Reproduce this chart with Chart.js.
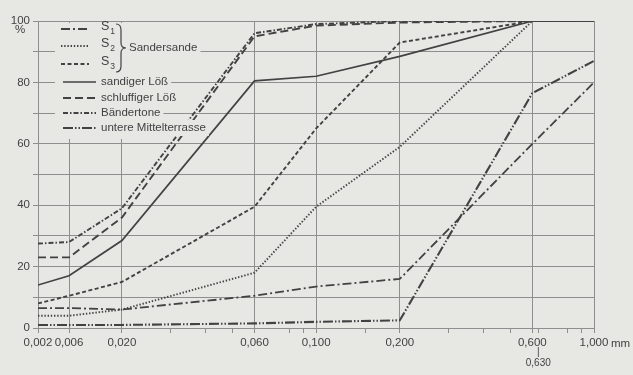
<!DOCTYPE html>
<html>
<head>
<meta charset="utf-8">
<script src="https://cdn.jsdelivr.net/npm/chart.js@4.4.1/dist/chart.umd.min.js"></script>
<style>
	html, body { margin: 0; padding: 0; background: #e7e7e4; }
	canvas { display: block; }
</style>
</head>
<body>
<canvas id="grainChart" width="633" height="375"></canvas>
<script>
'use strict';

// grain size (mm) where the curves have their vertices
const grainSizes = [0.002, 0.006, 0.02, 0.06, 0.1, 0.2, 0.6, 1.0];

// cumulative percentages per sample
const sander1 = [6.5, 6.5, 6, 10.5, 13.5, 16, 60, 80];
const sander2 = [4, 4, 6, 18, 39.5, 59, 100, 100];
const sander3 = [8, 10.5, 15, 39.5, 65, 93, 100, 100];
const sandigerLoess = [14, 17, 28.5, 80.5, 82, 88.5, 100, 100];
const schluffigerLoess = [23, 23, 36, 95, 98.5, 99.5, 100, 100];
const baendertone = [27.5, 28, 39, 96, 99, 100, 100, 100];
const mittelterrasse = [1, 1, 1, 1.5, 2, 2.5, 76.5, 87];

// axis ticks
const xTickValues = [0.002, 0.006, 0.02, 0.06, 0.1, 0.2, 0.6, 1.0];
const xTickLabels = ['0,002', '0,006', '0,020', '0,060', '0,100', '0,200', '0,600', '1,000'];
const xMinorTicks = [0.03, 0.04, 0.05, 0.08, 0.09, 0.15, 0.3, 0.4, 0.5, 0.8, 0.9];
const xExtraTick = 0.63;
const xExtraLabel = '0,630';
const yLabelledTicks = [0, 20, 40, 60, 80, 100];

// the paper's axis is squeezed below 0,020 and logarithmic above it
const axisBreaks = [0.002, 0.006, 0.02, 1.0];
const axisFractions = [0, 0.0558, 0.151, 1];

const lineColor = '#424242';
const gridColor = '#8e8e8e';
const textColor = '#424242';
const bgColor = '#e7e7e4';
const fontFamily = '"Liberation Sans", Arial, sans-serif';

class GrainScale extends Chart.LogarithmicScale {
	buildTicks() {
		this.start = this.min;
		this.end = this.max;
		const all = xTickValues.concat(xMinorTicks, [xExtraTick]).sort((a, b) => a - b);
		return all.map(v => ({ value: v }));
	}
	getPixelForValue(value) {
		const lv = Math.log10(value);
		const n = axisBreaks.length;
		let i = 0;
		while (i < n - 2 && value > axisBreaks[i + 1]) i++;
		const a = Math.log10(axisBreaks[i]);
		const b = Math.log10(axisBreaks[i + 1]);
		const t = (lv - a) / (b - a);
		const frac = axisFractions[i] + t * (axisFractions[i + 1] - axisFractions[i]);
		return this.getPixelForDecimal(frac);
	}
	getValueForPixel(pixel) {
		const frac = this.getDecimalForPixel(pixel);
		const n = axisFractions.length;
		let i = 0;
		while (i < n - 2 && frac > axisFractions[i + 1]) i++;
		const t = (frac - axisFractions[i]) / (axisFractions[i + 1] - axisFractions[i]);
		const a = Math.log10(axisBreaks[i]);
		const b = Math.log10(axisBreaks[i + 1]);
		return Math.pow(10, a + t * (b - a));
	}
}
GrainScale.id = 'grain';
GrainScale.defaults = {};
Chart.register(GrainScale);

const isMajor = v => xTickValues.some(t => Math.abs(t - v) < 1e-9);
const isExtra = v => Math.abs(v - xExtraTick) < 1e-9;

const toPoints = values => grainSizes.map((x, i) => ({ x: x, y: values[i] }));

const makeSet = (label, values, dash, width) => ({
	label: label,
	data: toPoints(values),
	borderColor: lineColor,
	borderWidth: width,
	borderDash: dash,
	borderCapStyle: 'butt',
	pointRadius: 0,
	tension: 0,
	fill: false
});

const datasets = [
	makeSet('S1', sander1, [9, 3, 2, 3], 1.8),
	makeSet('S2', sander2, [1.4, 1.8], 1.9),
	makeSet('S3', sander3, [4, 2.5], 1.9),
	makeSet('sandiger Löß', sandigerLoess, [], 1.7),
	makeSet('schluffiger Löß', schluffigerLoess, [8, 4], 1.9),
	makeSet('Bändertone', baendertone, [5, 2, 1.5, 2], 1.9),
	makeSet('untere Mittelterrasse', mittelterrasse, [10, 2, 1.5, 2, 1.5, 2], 2.1)
];

// legend rows: text middle y in canvas pixels
const legendRowsY = [29, 46, 64, 82, 98, 113, 128];

const paperLegend = {
	id: 'paperLegend',
	afterDatasetsDraw(chart) {
		const ctx = chart.ctx;
		const sets = chart.data.datasets;
		ctx.save();
		ctx.textBaseline = 'middle';
		ctx.font = '11.5px ' + fontFamily;

		// blank out the paper behind the legend
		ctx.fillStyle = bgColor;
		ctx.fillRect(55, 23, 75, 116);
		const groupWidth = ctx.measureText('Sandersande').width;
		ctx.fillRect(55, 23, 129 + groupWidth + 3 - 55, 50);
		for (let i = 3; i < sets.length; i++) {
			const w = ctx.measureText(sets[i].label).width;
			ctx.fillRect(55, legendRowsY[i] - 8, 101 + w + 3 - 55, 16);
		}

		sets.forEach((ds, i) => {
			const y = legendRowsY[i];
			const x0 = i < 3 ? 61 : 63;
			const x1 = i < 3 ? 89 : 96;
			ctx.beginPath();
			ctx.strokeStyle = ds.borderColor;
			ctx.lineWidth = ds.borderWidth;
			ctx.setLineDash(ds.borderDash);
			ctx.moveTo(x0, y);
			ctx.lineTo(x1, y);
			ctx.stroke();
			ctx.setLineDash([]);

			ctx.fillStyle = textColor;
			const m = /^S(\d)$/.exec(ds.label);
			if (m) {
				ctx.font = '12.5px ' + fontFamily;
				ctx.fillText('S', 101, y - 2);
				const sw = ctx.measureText('S').width;
				ctx.font = '8.5px ' + fontFamily;
				ctx.fillText(m[1], 101 + sw + 1, y + 3);
				ctx.font = '11.5px ' + fontFamily;
			} else {
				ctx.fillText(ds.label, 101, y);
			}
		});

		// brace for the three Sandersande
		ctx.beginPath();
		ctx.strokeStyle = lineColor;
		ctx.lineWidth = 1.2;
		ctx.moveTo(116, 24);
		ctx.quadraticCurveTo(121, 24, 121, 30);
		ctx.lineTo(121, 43);
		ctx.quadraticCurveTo(121, 48, 126, 48);
		ctx.quadraticCurveTo(121, 48, 121, 53);
		ctx.lineTo(121, 66);
		ctx.quadraticCurveTo(121, 72, 116, 72);
		ctx.stroke();
		ctx.fillStyle = textColor;
		ctx.fillText('Sandersande', 129, 48);

		// unit labels
		const yAxis = chart.scales.y;
		const xAxis = chart.scales.x;
		ctx.font = '11.5px ' + fontFamily;
		ctx.textAlign = 'center';
		ctx.fillText('%', 20, yAxis.getPixelForValue(100) + 9);
		ctx.textAlign = 'left';
		ctx.fillText('mm', xAxis.getPixelForValue(1.0) + 17, 344);
		ctx.restore();
	}
};

new Chart(document.getElementById('grainChart').getContext('2d'), {
	type: 'line',
	data: { datasets: datasets },
	options: {
		responsive: false,
		animation: false,
		devicePixelRatio: 1,
		layout: {
			padding: { top: 21, right: 39, bottom: 0, left: 0 }
		},
		plugins: {
			legend: { display: false },
			tooltip: { enabled: false }
		},
		scales: {
			x: {
				type: 'grain',
				min: 0.002,
				max: 1.0,
				afterFit: function (scale) { scale.height = 47; },
				border: { color: gridColor, width: 1 },
				grid: {
					color: ctx => (ctx.tick && isMajor(ctx.tick.value)) ? gridColor : 'rgba(0,0,0,0)',
					tickColor: gridColor,
					tickLength: 5,
					lineWidth: 1
				},
				ticks: {
					autoSkip: false,
					maxRotation: 0,
					minRotation: 0,
					padding: 3,
					color: textColor,
					font: ctx => (ctx.tick && isExtra(ctx.tick.value))
						? { family: fontFamily, size: 10, lineHeight: 1.1 }
						: { family: fontFamily, size: 11.5 },
					callback: function (value) {
						const idx = xTickValues.findIndex(t => Math.abs(t - value) < 1e-9);
						if (idx >= 0) return xTickLabels[idx];
						if (isExtra(value)) return ['', '|', xExtraLabel];
						return '';
					}
				}
			},
			y: {
				type: 'linear',
				min: 0,
				max: 100,
				afterFit: function (scale) { scale.width = 38; },
				border: { color: gridColor, width: 1 },
				grid: {
					color: ctx => (ctx.tick && ctx.tick.value % 10 === 0) ? gridColor : 'rgba(0,0,0,0)',
					tickColor: gridColor,
					tickLength: 5,
					lineWidth: 1
				},
				ticks: {
					stepSize: 5,
					padding: 3,
					color: textColor,
					font: { family: fontFamily, size: 11.5 },
					callback: value => yLabelledTicks.includes(value) ? String(value) : ''
				}
			}
		}
	},
	plugins: [paperLegend]
});
</script>
</body>
</html>
